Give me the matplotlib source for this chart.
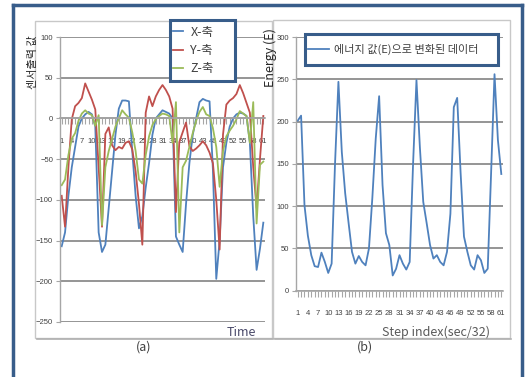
import matplotlib
matplotlib.use("Agg")
import matplotlib.pyplot as plt
from matplotlib.lines import Line2D
from matplotlib.patches import Rectangle

# ---------------- data ----------------
steps = list(range(1, 62))
tick_labels = [str(i) for i in range(1, 62, 3)]

x_axis = [-157, -140, -95, -60, -35, -10, 0, 5, 8, 5, -10, -140, -164, -155, -110,
          -65, -20, 12, 22, 22, 21, -40, -95, -135, -120, -85, -55, -20, 0, 5,
          10, 8, 6, 0, -145, -155, -164, -105, -55, -20, 0, 20, 24, 22, 21,
          -63, -197, -150, -60, -30, -10, 0, 5, 7, 6, 3, -30, -120, -186, -160, -128]
y_axis = [-95, -133, -60, -1, 15, 19, 25, 43, 33, 23, 11, -60, -133, -19, -11,
          -33, -39, -35, -37, -30, -28, -38, -65, -105, -155, 7, 27, 15, 27, 35,
          41, 35, 27, 12, -115, -29, -17, -5, -34, -40, -37, -33, -28, -33, -42,
          -55, -100, -161, -20, 17, 22, 25, 30, 41, 31, 19, 7, -60, -110, -50, 3]
z_axis = [-82, -75, -45, -25, -18, -3, 6, 10, 6, 4, -9, 4, -131, -60, -40,
          -25, -10, 0, 10, 5, 1, -17, -40, -75, -80, -45, -22, -8, -1, 3,
          6, 5, 3, -30, 20, -140, -60, -52, -35, -18, -3, 8, 14, 5, 3,
          -12, -35, -84, -40, -22, -15, -9, -1, 9, 6, 3, -30, 20, -129, -57, -53]
energy = [201, 207, 101, 65, 42, 29, 28, 45, 34, 21, 32, 150, 247, 164, 115,
          80, 46, 32, 41, 34, 30, 50, 110, 180, 230, 125, 68, 54, 18, 26,
          42, 32, 25, 34, 150, 249, 170, 105, 80, 54, 38, 42, 34, 30, 46,
          91, 217, 228, 140, 64, 46, 30, 25, 42, 36, 21, 26, 140, 256, 178, 138]

series_names = ["X-축", "Y-축", "Z-축"]
energy_name = "에너지 값(E)으로 변화된 데이터"

# ---------------- style ----------------
plt.rcParams['font.family'] = ['Noto Sans CJK KR', 'DejaVu Sans']

BLUE = '#4F81BD'
RED = '#C0504D'
GREEN = '#9BBB59'
GRID = '#8C8C8C'
AXC = '#A6A6A6'
TXT = '#404040'
FRAME = '#385D8A'

W, H = 526, 377
fig = plt.figure(figsize=(W / 100, H / 100), dpi=100)


def fx(px):
    return px / W


def fy(py):
    return 1 - py / H


# outer border (open at the bottom)
for (xa, ya, xb, yb) in [(13, 5, 522, 5), (13, 5, 13, 380), (522, 5, 522, 380)]:
    fig.add_artist(Line2D([fx(xa), fx(xb)], [fy(ya), fy(yb)], color=FRAME, lw=2.5,
                          transform=fig.transFigure))

# chart area frames
for (x0, y0, x1, y1) in [(35, 21, 272, 338), (273, 20, 510, 338)]:
    fig.add_artist(Rectangle((fx(x0), fy(y1)), fx(x1) - fx(x0), fy(y0) - fy(y1),
                             transform=fig.transFigure, fill=False,
                             edgecolor='#C8C8C8', lw=1.0))
    fig.add_artist(Line2D([fx(x0 + 2), fx(x1 + 1)], [fy(y1 + 1), fy(y1 + 1)],
                          color='#B0B0B0', lw=1.2, transform=fig.transFigure))


def style_axes(ax, ymin, ymax, ystep, xline_at):
    ax.set_xlim(0.5, 61.5)
    ax.set_ylim(ymin, ymax)
    ax.set_yticks(range(ymin, ymax + 1, ystep))
    ax.set_xticks(range(1, 62, 3))
    ax.set_xticklabels(tick_labels)
    ax.set_xticks(steps, minor=True)
    ax.grid(axis='y', color=GRID, lw=1.3)
    ax.set_axisbelow(True)
    for s in ['top', 'right']:
        ax.spines[s].set_visible(False)
    ax.spines['left'].set_color(AXC)
    ax.spines['bottom'].set_color(AXC)
    ax.spines['bottom'].set_position(('data', xline_at))
    ax.spines['left'].set_linewidth(1.0)
    ax.spines['bottom'].set_linewidth(1.2)
    ax.tick_params(axis='x', which='both', direction='out', length=4, color=AXC,
                   width=0.8, pad=10, labelsize=5.5, labelcolor=TXT)
    ax.tick_params(axis='y', which='both', direction='out', length=3, color=AXC,
                   width=0.8, pad=2, labelsize=5.5, labelcolor=TXT)
    for lab in ax.get_xticklabels() + ax.get_yticklabels():
        lab.set_fontfamily('Liberation Sans')


def legend_box(x0, y0, x1, y1):
    fig.add_artist(Rectangle((fx(x0), fy(y1)), fx(x1) - fx(x0), fy(y0) - fy(y1),
                             transform=fig.transFigure, facecolor='white',
                             edgecolor=FRAME, lw=2.2, zorder=5))


# ---------------- left chart ----------------
ax1 = fig.add_axes([fx(60), fy(322), fx(265) - fx(60), fy(37) - fy(322)])
ax1.patch.set_alpha(0)
style_axes(ax1, -250, 100, 50, 0)
l1, = ax1.plot(steps, x_axis, color=BLUE, lw=1.3)
l2, = ax1.plot(steps, y_axis, color=RED, lw=1.3)
l3, = ax1.plot(steps, z_axis, color=GREEN, lw=1.3)
legend_box(170, 20, 235, 81)
leg1 = fig.legend([l1, l2, l3], series_names, loc='center left',
                  bbox_to_anchor=(fx(173), fy(50.5)), bbox_transform=fig.transFigure,
                  fontsize=9, frameon=False, handlelength=0.8, handletextpad=0.6,
                  labelspacing=0.42, borderpad=0.0, borderaxespad=0)
leg1.set_zorder(6)
for t in leg1.get_texts():
    t.set_color(TXT)

fig.text(fx(33), fy(62), "센서출력 값", rotation=90, ha='center', va='center',
         fontsize=8, color='#262626')
fig.text(fx(241), fy(332), "Time", ha='center', va='center', fontsize=9,
         color='#4A4A6A')
fig.text(fx(144), fy(347), "(a)", ha='center', va='center', fontsize=9, color=TXT)

# ---------------- right chart ----------------
ax2 = fig.add_axes([fx(296), fy(290.7), fx(503) - fx(296), fy(37) - fy(290.7)])
ax2.patch.set_alpha(0)
style_axes(ax2, 0, 300, 50, 0)
le, = ax2.plot(steps, energy, color=BLUE, lw=1.3)
legend_box(305, 34, 498, 65)
leg2 = fig.legend([le], [energy_name], loc='center left',
                  bbox_to_anchor=(fx(308), fy(49.5)), bbox_transform=fig.transFigure,
                  fontsize=8, frameon=False, handlelength=1.9, handletextpad=0.4,
                  borderpad=0.0, borderaxespad=0)
leg2.set_zorder(6)
for t in leg2.get_texts():
    t.set_color(TXT)

fig.text(fx(270), fy(58), "Energy (E)", rotation=90, ha='center', va='center',
         fontsize=9, color='#262626')
fig.text(fx(436), fy(332), "Step index(sec/32)", ha='center', va='center',
         fontsize=9, color='#595959')
fig.text(fx(365), fy(347), "(b)", ha='center', va='center', fontsize=9, color=TXT)

fig.savefig("out.png", dpi=100, facecolor='white')
